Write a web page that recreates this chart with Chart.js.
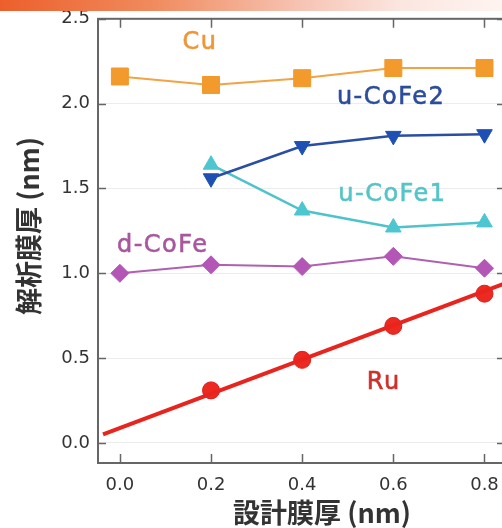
<!DOCTYPE html>
<html>
<head>
<meta charset="utf-8">
<script src="https://cdn.jsdelivr.net/npm/chart.js@4"></script>
<style>
    html, body { margin: 0; padding: 0; background: #fff; overflow: hidden; }
    #wrap { position: relative; width: 502px; height: 528px; overflow: hidden; }
    #topbar {
        position: absolute; left: 0; top: 0; width: 502px; height: 11px;
        background: linear-gradient(to right, #ec5f2c 0%, #f08a5c 30%, #f6c4b4 60%, #fbe6e0 80%, #fff4f0 100%);
    }
    #thicknessChart { position: absolute; left: 0; top: 0; }
</style>
</head>
<body>
<div id="wrap">
    <canvas id="thicknessChart" width="520" height="528"></canvas>
    <div id="topbar"></div>
</div>
<script>
// design thickness (nm) on the x axis
var design = [0.0, 0.2, 0.4, 0.6, 0.8];

// measured thickness (nm) per layer
var cu      = [2.16, 2.11, 2.15, 2.21, 2.21];
var uCoFe2  = [null, 1.56, 1.75, 1.81, 1.82];
var uCoFe1  = [null, 1.64, 1.37, 1.27, 1.30];
var dCoFe   = [1.00, 1.05, 1.04, 1.10, 1.03];
var ru      = [null, 0.31, 0.49, 0.69, 0.88];

// straight fit through the Ru points
var ruFitX = [-0.037, 0.845];
var ruFitY = [0.05, 0.94];

var xTicks = [0.0, 0.2, 0.4, 0.6, 0.8];
var yTicks = [0.0, 0.5, 1.0, 1.5, 2.0, 2.5];

var labelFont = "'DejaVu Sans', sans-serif";
var titleFont = "'Noto Sans CJK JP', sans-serif";

function toPoints(xs, ys) {
    var pts = [];
    for (var i = 0; i < xs.length; i++) {
        if (ys[i] !== null) pts.push({ x: xs[i], y: ys[i] });
    }
    return pts;
}

// series names written next to their curves, in data units
var seriesLabels = [
    { text: 'Cu',      x: 0.176, y: 2.36,  color: '#ee9636' },
    { text: 'u-CoFe2', x: 0.595, y: 2.035, color: '#2c4c9c' },
    { text: 'u-CoFe1', x: 0.598, y: 1.46,  color: '#55c4c8' },
    { text: 'd-CoFe',  x: 0.094, y: 1.165, color: '#a8579e' },
    { text: 'Ru',      x: 0.579, y: 0.353, color: '#d0302a' }
];

var framePlugin = {
    id: 'framePlugin',
    afterDatasetsDraw: function(chart) {
        var ctx = chart.ctx;
        var xs = chart.scales.x;
        var ys = chart.scales.y;

        ctx.save();
        ctx.textAlign = 'center';
        ctx.textBaseline = 'middle';
        ctx.font = '24px ' + labelFont;
        ctx.letterSpacing = '1.5px';
        ctx.lineWidth = 0.6;
        seriesLabels.forEach(function(l) {
            var px = xs.getPixelForValue(l.x);
            var py = ys.getPixelForValue(l.y);
            ctx.fillStyle = l.color;
            ctx.strokeStyle = l.color;
            ctx.fillText(l.text, px, py);
            ctx.strokeText(l.text, px, py);
        });
        ctx.restore();
    },
    afterDraw: function(chart) {
        var ctx = chart.ctx;
        var area = chart.chartArea;
        var xs = chart.scales.x;
        var ys = chart.scales.y;

        ctx.save();
        ctx.strokeStyle = '#666';
        ctx.lineWidth = 2;
        ctx.strokeRect(area.left, area.top, area.right - area.left, area.bottom - area.top);

        // inward tick marks on all four sides
        ctx.lineWidth = 1.5;
        ctx.beginPath();
        xTicks.forEach(function(v) {
            var px = Math.round(xs.getPixelForValue(v)) + 0.5;
            ctx.moveTo(px, area.bottom);
            ctx.lineTo(px, area.bottom - 9);
            ctx.moveTo(px, area.top);
            ctx.lineTo(px, area.top + 9);
        });
        yTicks.forEach(function(v) {
            var py = Math.round(ys.getPixelForValue(v)) + 0.5;
            ctx.moveTo(area.left, py);
            ctx.lineTo(area.left + 8, py);
            ctx.moveTo(area.right, py);
            ctx.lineTo(area.right - 8, py);
        });
        ctx.stroke();

        // axis titles
        ctx.fillStyle = '#333';
        ctx.textAlign = 'center';
        ctx.textBaseline = 'middle';
        ctx.font = 'bold 27px ' + titleFont;
        ctx.fillText('設計膜厚 (nm)', 322, 513);

        ctx.translate(29, 226);
        ctx.rotate(-Math.PI / 2);
        ctx.font = 'bold 27px ' + titleFont;
        ctx.fillText('解析膜厚 (nm)', 0, 0);
        ctx.restore();
    }
};

function createChart() {
    var canvas = document.getElementById('thicknessChart').getContext('2d');

    var chart_options = {
        responsive: false,
        animation: false,
        layout: {
            padding: { top: 17, right: 15, left: 0, bottom: 0 }
        },
        scales: {
            x: {
                type: 'linear',
                min: -0.048,
                max: 0.845,
                afterBuildTicks: function(axis) {
                    axis.ticks = xTicks.map(function(v) { return { value: v }; });
                },
                afterFit: function(axis) { axis.height = 65; },
                grid: { display: false, drawTicks: false },
                border: { display: false },
                ticks: {
                    padding: 12,
                    color: '#333',
                    font: { family: labelFont, size: 18 },
                    callback: function(v) { return v.toFixed(1); }
                }
            },
            y: {
                type: 'linear',
                min: -0.118,
                max: 2.5,
                afterBuildTicks: function(axis) {
                    axis.ticks = yTicks.map(function(v) { return { value: v }; });
                },
                afterFit: function(axis) { axis.width = 98; },
                grid: { color: '#ececec', lineWidth: 1, drawTicks: false },
                border: { display: false },
                ticks: {
                    padding: 8,
                    color: '#333',
                    font: { family: labelFont, size: 18 },
                    callback: function(v) { return v.toFixed(1); }
                }
            }
        },
        plugins: {
            legend: { display: false },
            tooltip: { enabled: false }
        }
    };

    new Chart(canvas, {
        type: 'scatter',
        data: {
            datasets: [{
                label: 'Cu',
                data: toPoints(design, cu),
                showLine: true,
                borderColor: '#f2a343',
                borderWidth: 2,
                pointStyle: 'rect',
                pointRadius: 12,
                pointBackgroundColor: '#f29a2c',
                pointBorderColor: '#f29a2c',
                pointBorderWidth: 1
            }, {
                label: 'u-CoFe2',
                data: toPoints(design, uCoFe2),
                showLine: true,
                borderColor: '#2a4ea4',
                borderWidth: 2.5,
                pointStyle: 'triangle',
                rotation: 180,
                pointRadius: 9,
                pointBackgroundColor: '#1e50b4',
                pointBorderColor: '#1e50b4',
                pointBorderWidth: 1
            }, {
                label: 'u-CoFe1',
                data: toPoints(design, uCoFe1),
                showLine: true,
                borderColor: '#4ec3cb',
                borderWidth: 2.5,
                pointStyle: 'triangle',
                pointRadius: 9,
                pointBackgroundColor: '#4dc6cf',
                pointBorderColor: '#4dc6cf',
                pointBorderWidth: 1
            }, {
                label: 'd-CoFe',
                data: toPoints(design, dCoFe),
                showLine: true,
                borderColor: '#b060b0',
                borderWidth: 2,
                pointStyle: 'rectRot',
                pointRadius: 9,
                pointBackgroundColor: '#b356b6',
                pointBorderColor: '#b356b6',
                pointBorderWidth: 1
            }, {
                label: 'Ru fit',
                data: toPoints(ruFitX, ruFitY),
                showLine: true,
                borderColor: '#e8241e',
                borderWidth: 4,
                pointRadius: 0
            }, {
                label: 'Ru',
                data: toPoints(design, ru),
                showLine: false,
                pointStyle: 'circle',
                pointRadius: 8.5,
                pointBackgroundColor: '#ec2a22',
                pointBorderColor: '#e01c18',
                pointBorderWidth: 1
            }]
        },
        options: chart_options,
        plugins: [framePlugin]
    });
}

createChart();
</script>
</body>
</html>
